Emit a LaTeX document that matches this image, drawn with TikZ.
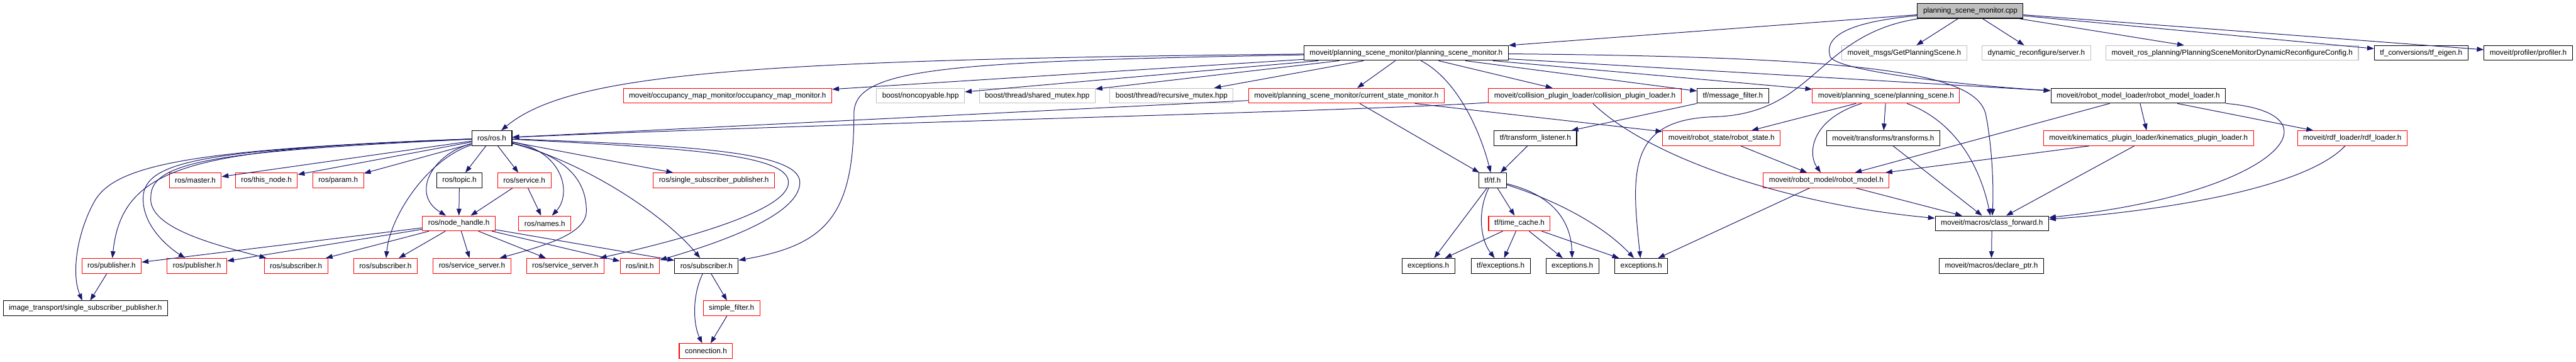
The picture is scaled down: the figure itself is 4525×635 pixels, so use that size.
\documentclass[tikz,border=0pt]{standalone}
\usepackage{fontspec}
\setmainfont{Liberation Sans}
\usepackage{xcolor}
\usepackage{tikz}
\usetikzlibrary{arrows.meta, positioning}
\definecolor{edgeblue}{HTML}{191970}
\definecolor{boxred}{HTML}{FF0000}
\definecolor{boxgray}{HTML}{BFBFBF}
\tikzstyle{hfile} = [
    rectangle,
    minimum height=26pt,
    inner xsep=10pt,
    inner ysep=0pt,
    text centered,
    draw=black,
    line width=1.2pt,
    fill=white,
    font=\fontsize{13}{15}\selectfont
]
\tikzstyle{redfile} = [hfile, draw=boxred]
\tikzstyle{sysfile} = [hfile, draw=boxgray]
\tikzstyle{srcfile} = [hfile, fill=boxgray]
\tikzset{
    >={Triangle[length=12pt,width=8.5pt]}
}
\tikzstyle{arrow} = [
    line width=1.1pt,
    ->,
    draw=edgeblue
]

\begin{document}
\begin{tikzpicture}[x=1pt, y=-1pt]
\useasboundingbox (0,0) rectangle (4525,635);

% Nodes
\node (cpp) [srcfile] at (3461,19) {planning\_scene\_monitor.cpp};

\node (psmh) [hfile] at (2470,93) {moveit/planning\_scene\_monitor/planning\_scene\_monitor.h};
\node (getps) [sysfile] at (3345,93) {moveit\_msgs/GetPlanningScene.h};
\node (dynrec) [sysfile] at (3577,93) {dynamic\_reconfigure/server.h};
\node (psmcfg) [sysfile] at (3921,93) {moveit\_ros\_planning/PlanningSceneMonitorDynamicReconfigureConfig.h};
\node (tfeigen) [hfile] at (4253,93) {tf\_conversions/tf\_eigen.h};
\node (profiler) [hfile] at (4441,93) {moveit/profiler/profiler.h};

\node (occmap) [redfile] at (1278,168) {moveit/occupancy\_map\_monitor/occupancy\_map\_monitor.h};
\node (noncopy) [sysfile] at (1617,168) {boost/noncopyable.hpp};
\node (sharedmtx) [sysfile] at (1822,168) {boost/thread/shared\_mutex.hpp};
\node (recmtx) [sysfile] at (2058,168) {boost/thread/recursive\_mutex.hpp};
\node (curstate) [redfile] at (2365,168) {moveit/planning\_scene\_monitor/current\_state\_monitor.h};
\node (collplug) [redfile] at (2784,168) {moveit/collision\_plugin\_loader/collision\_plugin\_loader.h};
\node (msgfilter) [hfile] at (3044,168) {tf/message\_filter.h};
\node (planscene) [redfile] at (3313,168) {moveit/planning\_scene/planning\_scene.h};
\node (rmloader) [hfile] at (3756,168) {moveit/robot\_model\_loader/robot\_model\_loader.h};

\node (rosh) [hfile] at (864,242.5) {ros/ros.h};
\node (tflisten) [hfile] at (2697,242.5) {tf/transform\_listener.h};
\node (robstate) [redfile] at (3024,242.5) {moveit/robot\_state/robot\_state.h};
\node (transforms) [hfile] at (3308,242.5) {moveit/transforms/transforms.h};
\node (kinplug) [redfile] at (3774,242.5) {moveit/kinematics\_plugin\_loader/kinematics\_plugin\_loader.h};
\node (rdfloader) [redfile] at (4132,242.5) {moveit/rdf\_loader/rdf\_loader.h};

\node (master) [redfile] at (343,316.5) {ros/master.h};
\node (thisnode) [redfile] at (468,316.5) {ros/this\_node.h};
\node (param) [redfile] at (594,316.5) {ros/param.h};
\node (topic) [hfile] at (807,316.5) {ros/topic.h};
\node (service) [redfile] at (921,316.5) {ros/service.h};
\node (singlesub) [redfile] at (1254,316.5) {ros/single\_subscriber\_publisher.h};
\node (tftf) [hfile] at (2622,316.5) {tf/tf.h};
\node (robmodel) [redfile] at (3208,316.5) {moveit/robot\_model/robot\_model.h};

\node (nodehandle) [redfile] at (806,392) {ros/node\_handle.h};
\node (names) [redfile] at (957,392) {ros/names.h};
\node (timecache) [redfile] at (2669,392) {tf/time\_cache.h};
\node (classfwd) [hfile] at (3499,392) {moveit/macros/class\_forward.h};

\node (pub1) [redfile] at (196,466.5) {ros/publisher.h};
\node (pub2) [redfile] at (346,466.5) {ros/publisher.h};
\node (sub1) [redfile] at (520,466.5) {ros/subscriber.h};
\node (sub2) [redfile] at (677,466.5) {ros/subscriber.h};
\node (srv1) [redfile] at (829,466.5) {ros/service\_server.h};
\node (srv2) [redfile] at (993,466.5) {ros/service\_server.h};
\node (init) [redfile] at (1124,466.5) {ros/init.h};
\node (subblk) [hfile] at (1241,466.5) {ros/subscriber.h};
\node (exc1) [hfile] at (2509,466.5) {exceptions.h};
\node (tfexc) [hfile] at (2636,466.5) {tf/exceptions.h};
\node (exc2) [hfile] at (2762,466.5) {exceptions.h};
\node (exc3) [hfile] at (2883,466.5) {exceptions.h};
\node (declptr) [hfile] at (3498,466.5) {moveit/macros/declare\_ptr.h};

\node (imgtr) [hfile] at (150,541) {image\_transport/single\_subscriber\_publisher.h};
\node (simplefilt) [redfile] at (1285,541) {simple\_filter.h};

\node (connection) [redfile] at (1240,616) {connection.h};

% Arrows
\draw [arrow] (cpp) -- (psmh);
\draw [arrow] (cpp) -- (getps);
\draw [arrow] (cpp) -- (dynrec);
\draw [arrow] (cpp) -- (psmcfg);
\draw [arrow] (cpp) -- (tfeigen);
\draw [arrow] (cpp) -- (profiler);
\draw [arrow] (cpp) .. controls (3230,40) and (3205,70) .. (3215,100)
    .. controls (3230,125) and (3450,150) .. (rmloader);
\draw [arrow] (cpp) .. controls (3190,60) and (3190,200) .. (3010,205)
    .. controls (2860,210) and (2865,300) .. (exc3);

\draw [arrow] (psmh) .. controls (1300,105) and (1000,130) .. (rosh);
\draw [arrow] (psmh) -- (occmap);
\draw [arrow] (psmh) -- (noncopy);
\draw [arrow] (psmh) -- (sharedmtx);
\draw [arrow] (psmh) -- (recmtx);
\draw [arrow] (psmh) -- (curstate);
\draw [arrow] (psmh) -- (collplug);
\draw [arrow] (psmh) -- (msgfilter);
\draw [arrow] (psmh) -- (planscene);
\draw [arrow] (psmh) -- (rmloader);
\draw [arrow] (psmh) .. controls (2560,140) and (2600,230) .. (tftf);
\draw [arrow] (psmh) .. controls (3300,100) and (3470,130) .. (3488,200)
    .. controls (3500,260) and (3502,330) .. (classfwd);
\draw [arrow] (psmh) .. controls (1650,108) and (1500,120) .. (1500,200)
    .. controls (1500,380) and (1450,430) .. (subblk);

\draw [arrow] (curstate) -- (rosh);
\draw [arrow] (curstate) -- (tftf);
\draw [arrow] (curstate) -- (robstate);

\draw [arrow] (collplug) .. controls (2400,195) and (1500,215) .. (rosh);
\draw [arrow] (collplug) .. controls (2900,280) and (3150,360) .. (classfwd);

\draw [arrow] (msgfilter) -- (tflisten);
\draw [arrow] (tflisten) -- (tftf);

\draw [arrow] (planscene) -- (robstate);
\draw [arrow] (planscene) -- (transforms);
\draw [arrow] (planscene) .. controls (3180,210) and (3175,270) .. (robmodel);
\draw [arrow] (planscene) .. controls (3440,215) and (3480,300) .. (classfwd);

\draw [arrow] (robstate) -- (robmodel);
\draw [arrow] (transforms) -- (classfwd);

\draw [arrow] (rmloader) -- (robmodel);
\draw [arrow] (rmloader) -- (kinplug);
\draw [arrow] (rmloader) -- (rdfloader);
\draw [arrow] (rmloader) .. controls (4120,200) and (4000,340) .. (classfwd);

\draw [arrow] (kinplug) -- (robmodel);
\draw [arrow] (kinplug) -- (classfwd);
\draw [arrow] (rdfloader) .. controls (4050,330) and (3800,370) .. (classfwd);

\draw [arrow] (robmodel) -- (classfwd);
\draw [arrow] (robmodel) -- (exc3);
\draw [arrow] (classfwd) -- (declptr);

\draw [arrow] (tftf) -- (exc1);
\draw [arrow] (tftf) .. controls (2595,370) and (2600,420) .. (tfexc);
\draw [arrow] (tftf) -- (timecache);
\draw [arrow] (tftf) .. controls (2740,345) and (2760,400) .. (exc2);
\draw [arrow] (tftf) .. controls (2760,360) and (2830,410) .. (exc3);

\draw [arrow] (timecache) -- (exc1);
\draw [arrow] (timecache) -- (tfexc);
\draw [arrow] (timecache) -- (exc2);
\draw [arrow] (timecache) -- (exc3);

\draw [arrow] (rosh) -- (master);
\draw [arrow] (rosh) -- (thisnode);
\draw [arrow] (rosh) -- (param);
\draw [arrow] (rosh) -- (topic);
\draw [arrow] (rosh) -- (service);
\draw [arrow] (rosh) -- (singlesub);
\draw [arrow] (rosh) .. controls (350,262) and (215,285) .. (pub1);
\draw [arrow] (rosh) .. controls (330,262) and (200,290) .. (165,355)
    .. controls (135,410) and (125,480) .. (imgtr);
\draw [arrow] (rosh) .. controls (380,262) and (262,280) .. (252,340)
    .. controls (246,390) and (290,430) .. (pub2);
\draw [arrow] (rosh) .. controls (400,265) and (265,280) .. (265,345)
    .. controls (258,400) and (380,430) .. (sub1);
\draw [arrow] (rosh) .. controls (750,280) and (685,380) .. (sub2);
\draw [arrow] (rosh) .. controls (760,270) and (720,340) .. (nodehandle);
\draw [arrow] (rosh) .. controls (990,265) and (1005,340) .. (names);
\draw [arrow] (rosh) .. controls (1000,275) and (1030,320) .. (1030,370)
    .. controls (1030,410) and (960,430) .. (srv1);
\draw [arrow] (rosh) .. controls (1030,285) and (1170,380) .. (subblk);
\draw [arrow] (rosh) .. controls (1200,260) and (1385,270) .. (1385,320)
    .. controls (1385,370) and (1200,420) .. (srv2);
\draw [arrow] (rosh) .. controls (1200,255) and (1405,265) .. (1405,320)
    .. controls (1405,380) and (1250,430) .. (init);

\draw [arrow] (topic) -- (nodehandle);
\draw [arrow] (service) -- (nodehandle);
\draw [arrow] (service) -- (names);

\draw [arrow] (nodehandle) -- (pub1);
\draw [arrow] (nodehandle) -- (pub2);
\draw [arrow] (nodehandle) -- (sub1);
\draw [arrow] (nodehandle) -- (sub2);
\draw [arrow] (nodehandle) -- (srv1);
\draw [arrow] (nodehandle) -- (srv2);
\draw [arrow] (nodehandle) -- (init);
\draw [arrow] (nodehandle) -- (subblk);

\draw [arrow] (pub1) -- (imgtr);

\draw [arrow] (subblk) -- (simplefilt);
\draw [arrow] (subblk) .. controls (1215,520) and (1218,570) .. (connection);
\draw [arrow] (simplefilt) -- (connection);

\end{tikzpicture}
\end{document}
